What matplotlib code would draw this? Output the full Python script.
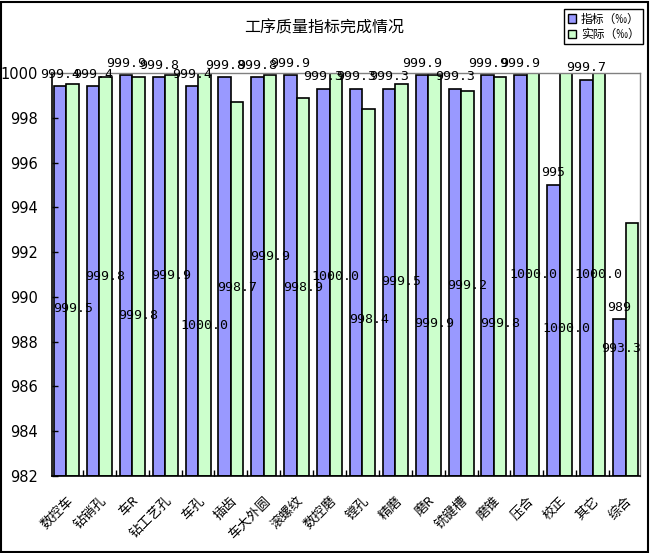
import matplotlib
matplotlib.use("Agg")
import matplotlib.pyplot as plt
from matplotlib.patches import Patch, Rectangle
import numpy as np

plt.rcParams['font.family'] = ['Noto Sans CJK SC', 'DejaVu Sans']

categories = ['数控车', '钻销孔', '车R', '钻工艺孔', '车孔', '插齿', '车大外圆', '滚螺纹',
              '数控磨', '镗孔', '精磨', '磨R', '铣键槽', '磨锥', '压合', '校正', '其它', '综合']
target = [999.4, 999.4, 999.9, 999.8, 999.4, 999.8, 999.8, 999.9, 999.3,
          999.3, 999.3, 999.9, 999.3, 999.9, 999.9, 995, 999.7, 989]
actual = [999.5, 999.8, 999.8, 999.9, 1000.0, 998.7, 999.9, 998.9, 1000.0,
          998.4, 999.5, 999.9, 999.2, 999.8, 1000.0, 1000.0, 1000.0, 993.3]
target_text = ['999.4', '999.4', '999.9', '999.8', '999.4', '999.8', '999.8', '999.9', '999.3',
               '999.3', '999.3', '999.9', '999.3', '999.9', '999.9', '995', '999.7', '989']
actual_text = ['999.5', '999.8', '999.8', '999.9', '1000.0', '998.7', '999.9', '998.9', '1000.0',
               '998.4', '999.5', '999.9', '999.2', '999.8', '1000.0', '1000.0', '1000.0', '993.3']
# vertical placement of the "actual" data labels (as drawn in the reference, y in axis units)
actual_label_pos = [989.5, 990.9, 989.15, 990.95, 988.7, 990.4, 991.8, 990.4, 990.9,
                    989.0, 990.7, 988.8, 990.5, 988.8, 991.0, 988.6, 991.0, 987.7]
yticks = [982, 984, 986, 988, 990, 992, 994, 996, 998, 1000]
ymin, ymax = 982, 1000

W, H = 650, 553
fig = plt.figure(figsize=(W / 100, H / 100), dpi=100)
ax = fig.add_axes([52 / W, 1 - 476 / H, (640 - 52) / W, (476 - 73) / H])

blue = '#9999FF'
green = '#CCFFCC'
w = 0.38
x = np.arange(len(categories))
t = np.array(target)
a = np.array(actual)
ax.bar(x - w / 2, t - ymin, bottom=ymin, width=w, color=blue, edgecolor='black', linewidth=1.2)
ax.bar(x + w / 2, a - ymin, bottom=ymin, width=w, color=green, edgecolor='black', linewidth=1.2)

ax.set_xlim(-w - 0.06, len(categories) - 1 + w + 0.06)
ax.set_ylim(ymin, ymax)
ax.set_yticks(yticks)
ax.set_yticklabels([str(v) for v in yticks], fontsize=10.5, family='DejaVu Sans')
ax.tick_params(axis='y', direction='in', length=4, width=1, pad=10, colors='black')

ax.set_xticks(x)
ax.set_xticklabels(categories, fontsize=9.5, rotation=45, ha='right', va='top',
                   rotation_mode='anchor')
ax.tick_params(axis='x', which='major', length=0, pad=13)
ax.set_xticks(x[:-1] + 0.5, minor=True)
ax.tick_params(axis='x', which='minor', direction='in', length=4, width=1)

for side in ['left', 'bottom']:
    ax.spines[side].set_color('black')
    ax.spines[side].set_linewidth(1.2)
for side in ['top', 'right']:
    ax.spines[side].set_color('#808080')
    ax.spines[side].set_linewidth(1.0)

actual_texts = []
for i in range(len(categories)):
    ax.annotate(target_text[i], (x[i] - w / 2, target[i]), xytext=(0, 12),
                textcoords='offset pixels', ha='center', va='center',
                fontsize=9.5, family='DejaVu Sans Mono', annotation_clip=False)
    actual_texts.append(ax.text(x[i] + w / 2, actual_label_pos[i], actual_text[i],
                                ha='center', va='center', fontsize=9.5,
                                family='DejaVu Sans Mono'))

fig.text(324 / W, 1 - 28 / H, '工序质量指标完成情况', ha='center', va='center', fontsize=11.5)

handles = [Patch(facecolor=blue, edgecolor='black', label='指标（‰）'),
           Patch(facecolor=green, edgecolor='black', label='实际（‰）')]
leg = fig.legend(handles=handles, loc='upper right', bbox_to_anchor=(643 / W, 1 - 9 / H),
                 fontsize=8.5, frameon=True, fancybox=False, edgecolor='black', framealpha=1,
                 handlelength=0.7, handleheight=0.7, handletextpad=0.4, borderpad=0.3,
                 labelspacing=0.2, borderaxespad=0)
leg.get_frame().set_linewidth(1.0)

fig.patches.append(Rectangle((1 / W, 1 / H), (W - 3) / W, (H - 3) / H, transform=fig.transFigure,
                             fill=False, edgecolor='black', linewidth=1.5))

# keep data labels inside the chart area, as the reference does
fig.canvas.draw()
renderer = fig.canvas.get_renderer()
ax_right = ax.get_window_extent(renderer).x1
for txt in actual_texts:
    bb = txt.get_window_extent(renderer)
    if bb.x1 > ax_right + 1:
        shift = bb.x1 - ax_right - 1
        xd, yd = txt.get_position()
        xpix, ypix = ax.transData.transform((xd, yd))
        txt.set_position(ax.transData.inverted().transform((xpix - shift, ypix)))

fig.savefig('out.png', dpi=100)
